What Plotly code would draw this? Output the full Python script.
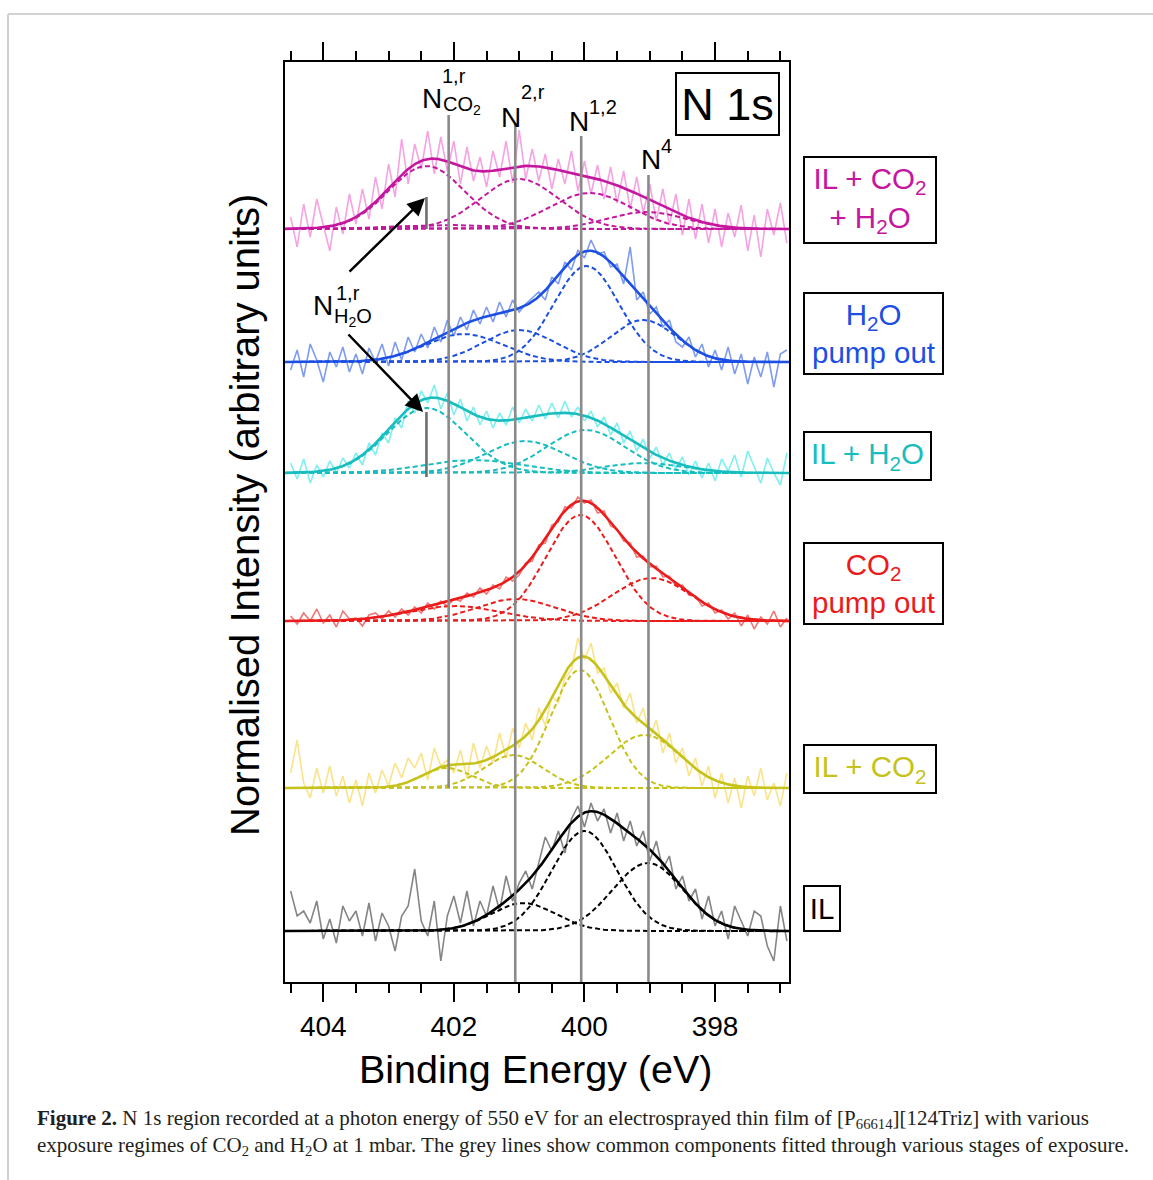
import numpy as np
import plotly.graph_objects as go

FONT = "Liberation Sans, Arial, sans-serif"
SERIF = "Liberation Serif, Times New Roman, serif"

# ---------------- data ----------------
# Binding energy grid of the recorded spectra (eV)
energy = [404.5, 404.4, 404.3, 404.2, 404.1, 404.0, 403.9, 403.8, 403.7, 403.6,
          403.5, 403.4, 403.3, 403.2, 403.1, 403.0, 402.9, 402.8, 402.7, 402.6,
          402.5, 402.4, 402.3, 402.2, 402.1, 402.0, 401.9, 401.8, 401.7, 401.6,
          401.5, 401.4, 401.3, 401.2, 401.1, 401.0, 400.9, 400.8, 400.7, 400.6,
          400.5, 400.4, 400.3, 400.2, 400.1, 400.0, 399.9, 399.8, 399.7, 399.6,
          399.5, 399.4, 399.3, 399.2, 399.1, 399.0, 398.9, 398.8, 398.7, 398.6,
          398.5, 398.4, 398.3, 398.2, 398.1, 398.0, 397.9, 397.8, 397.7, 397.6,
          397.5, 397.4, 397.3, 397.2, 397.1, 397.0, 396.9]

# raw intensities (arb. units, above each spectrum's own baseline)
raw_il_co2_h2o = [12, -18, 25, -8, 30, 5, -22, 22, -5, 35,
                  5, 40, 10, 52, 20, 65, 32, 90, 45, 85,
                  60, 98, 55, 92, 58, 88, 45, 82, 48, 72,
                  42, 78, 52, 88, 46, 99, 50, 80, 48, 75,
                  40, 70, 45, 78, 38, 68, 35, 64, 30, 62,
                  26, 58, 20, 52, 16, 45, 8, 40, 4, 35,
                  -6, 30, -10, 25, -14, 20, -18, 16, -8, 24,
                  -22, 14, -28, 20, -6, 26, -14]
raw_h2o_pump = [-8, 12, -15, 18, 2, -20, 10, -5, 15, -10,
                8, -12, 14, 0, 18, -4, 20, 2, 25, 10,
                28, 14, 35, 20, 42, 26, 45, 32, 52, 38,
                55, 40, 60, 45, 62, 50, 58, 64, 70, 62,
                85, 78, 100, 92, 112, 104, 122, 108, 110, 95,
                98, 78, 115, 62, 70, 48, 55, 35, 42, 20,
                15, 25, 5, 18, -5, 12, -8, 15, -12, 8,
                -22, 5, -15, 10, -25, 8, 12]
raw_il_h2o = [10, -6, 14, -10, 8, -4, 12, 0, 15, 5,
              20, 8, 30, 18, 40, 30, 55, 45, 72, 60,
              82, 70, 88, 64, 80, 58, 74, 52, 66, 48,
              62, 45, 60, 48, 66, 50, 64, 52, 68, 54,
              70, 55, 72, 56, 66, 52, 62, 46, 56, 38,
              50, 30, 42, 22, 34, 15, 26, 8, 20, 4,
              16, -2, 12, -5, 10, -8, 14, 2, 18, -4,
              22, 6, -10, 15, 0, -12, 20]
raw_co2_pump = [5, -3, 8, 0, 12, -2, 6, -6, 10, 2,
                3, -5, 6, 8, 2, 10, 4, 12, 6, 14,
                8, 18, 12, 20, 15, 22, 20, 28, 24, 33,
                27, 36, 32, 44, 40, 46, 58, 60, 76, 78,
                96, 99, 114, 113, 124, 118, 121, 108, 110, 95,
                92, 80, 78, 64, 65, 54, 55, 44, 45, 35,
                36, 26, 25, 15, 18, 8, 11, 2, 8, -5,
                6, -8, 4, -3, 10, -6, 3]
raw_il_co2 = [15, 48, 5, -10, 20, -5, 22, -8, 12, -15,
              8, -18, 15, -5, 18, 2, 25, 10, 30, 20,
              35, 8, 40, 22, 28, 15, 38, 10, 45, 20,
              42, 25, 55, 30, 60, 40, 65, 48, 80, 62,
              92, 85, 110, 118, 150, 128, 145, 115, 120, 95,
              105, 80, 95, 65, 80, 50, 68, 35, 55, 25,
              40, 12, 30, 2, 22, -10, 15, -15, 10, -20,
              12, -8, 20, -12, 5, -18, 15]
raw_il = [40, 15, 20, 8, 30, -8, 12, -12, 25, 10,
          20, -5, 28, -10, 18, 5, -20, 15, 25, 62,
          10, -5, 30, -30, 15, 35, 8, 40, 5, 30,
          15, 45, 20, 55, 30, 48, 60, 42, 68, 94,
          80, 100, 78, 112, 125, 104, 128, 110, 122, 98,
          118, 90, 110, 85, 100, 70, 90, 62, 75, 42,
          55, 30, 42, 12, 35, 5, 20, -8, 25, 10,
          -5, 20, 15, -15, -30, 25, -10]

# fitted components: centre (eV), height, gaussian sigma (eV)
fit_il_co2_h2o_centre = [402.42, 402.10, 401.00, 399.92, 399.05]
fit_il_co2_h2o_height = [63, 4, 50, 36, 17]
fit_il_co2_h2o_sigma = [0.58, 0.80, 0.60, 0.62, 0.60]

fit_h2o_pump_centre = [401.85, 401.00, 399.97, 399.10]
fit_h2o_pump_height = [28, 32, 96, 42]
fit_h2o_pump_sigma = [0.60, 0.55, 0.50, 0.50]

fit_il_h2o_centre = [402.42, 401.70, 400.91, 399.98, 399.10]
fit_il_h2o_height = [65, 13, 32, 43, 10]
fit_il_h2o_sigma = [0.60, 0.75, 0.60, 0.60, 0.60]

fit_co2_pump_centre = [402.00, 401.05, 400.06, 398.97]
fit_co2_pump_height = [15, 22, 106, 43]
fit_co2_pump_sigma = [0.70, 0.60, 0.53, 0.60]

fit_il_co2_centre = [402.11, 401.09, 400.07, 399.08]
fit_il_co2_height = [20, 33, 118, 53]
fit_il_co2_sigma = [0.38, 0.45, 0.45, 0.55]

fit_il_centre = [400.94, 400.00, 399.03]
fit_il_height = [28, 100, 68]
fit_il_sigma = [0.50, 0.50, 0.54]

# vertical stacking offsets of the spectra
offsets = {"il_co2_h2o": 753, "h2o_pump": 620, "il_h2o": 509,
           "co2_pump": 361, "il_co2": 194, "il": 51}

# common component energies (grey lines) and N(1,r) H2O marker
grey_line_energy = [402.08, 401.06, 400.05, 399.02]
h2o_marker_energy = 402.42

labels = ["IL + CO<sub>2</sub><br>+ H<sub>2</sub>O", "H<sub>2</sub>O<br>pump out",
          "IL + H<sub>2</sub>O", "CO<sub>2</sub><br>pump out", "IL + CO<sub>2</sub>", "IL"]

# ---------------- style ----------------
style = {
    "il_co2_h2o": ("#C4169F", "#F5A3E2"),
    "h2o_pump": ("#1C4FE3", "#7F9CEE"),
    "il_h2o": ("#17BDBF", "#7FEFF0"),
    "co2_pump": ("#EC1B1B", "#F07777"),
    "il_co2": ("#C6C21A", "#FAE38A"),
    "il": ("#000000", "#858585"),
}

spectra = [
    ("il", raw_il, fit_il_centre, fit_il_height, fit_il_sigma),
    ("il_co2", raw_il_co2, fit_il_co2_centre, fit_il_co2_height, fit_il_co2_sigma),
    ("co2_pump", raw_co2_pump, fit_co2_pump_centre, fit_co2_pump_height, fit_co2_pump_sigma),
    ("il_h2o", raw_il_h2o, fit_il_h2o_centre, fit_il_h2o_height, fit_il_h2o_sigma),
    ("h2o_pump", raw_h2o_pump, fit_h2o_pump_centre, fit_h2o_pump_height, fit_h2o_pump_sigma),
    ("il_co2_h2o", raw_il_co2_h2o, fit_il_co2_h2o_centre, fit_il_co2_h2o_height, fit_il_co2_h2o_sigma),
]

X_RANGE = [404.586, 396.868]
e_fine = np.linspace(X_RANGE[0], X_RANGE[1], 600)

fig = go.Figure()

for key, raw, cen, hgt, sig in spectra:
    dark, light = style[key]
    off = offsets[key]
    fig.add_trace(go.Scatter(x=energy, y=np.array(raw) + off, mode="lines",
                             line=dict(color=light, width=1.6), showlegend=False, hoverinfo="skip"))
    total = np.zeros_like(e_fine)
    for c, h, s in zip(cen, hgt, sig):
        comp = h * np.exp(-(e_fine - c) ** 2 / (2 * s ** 2))
        total += comp
        fig.add_trace(go.Scatter(x=e_fine, y=comp + off, mode="lines",
                                 line=dict(color=dark, width=2, dash="5px,3px"),
                                 showlegend=False, hoverinfo="skip"))
    fig.add_trace(go.Scatter(x=e_fine, y=total + off, mode="lines",
                             line=dict(color=dark, width=2.6), showlegend=False, hoverinfo="skip"))

# grey lines for common components
grey_line_y = [(offsets["il_co2"], 867), (0, 859), (0, 846), (0, 807)]
for e, (y0, y1) in zip(grey_line_energy, grey_line_y):
    fig.add_trace(go.Scatter(x=[e, e], y=[y0, y1], mode="lines",
                             line=dict(color="#8A8A8A", width=2.6), showlegend=False, hoverinfo="skip"))
for y0, y1 in [(offsets["il_co2_h2o"], 785), (offsets["il_h2o"] - 4, 570)]:
    fig.add_trace(go.Scatter(x=[h2o_marker_energy, h2o_marker_energy], y=[y0, y1], mode="lines",
                             line=dict(color="#6E6E6E", width=2.6), showlegend=False, hoverinfo="skip"))

# ---------------- layout ----------------
W, H = 1153, 1180
L, R, T, B = 285, 364, 62, 198
PW, PH = W - L - R, H - T - B


def px(x):
    return (x - L) / PW


def py(y):
    return (H - B - y) / PH


tick_common = dict(tickmode="linear", tick0=0, dtick=2, ticks="outside", ticklen=18, tickwidth=2,
                   tickcolor="black",
                   minor=dict(dtick=0.5, tick0=0, ticks="outside", ticklen=9, tickwidth=2, tickcolor="black"))

fig.update_layout(
    width=W, height=H, margin=dict(l=L, r=R, t=T, b=B),
    paper_bgcolor="white", plot_bgcolor="white",
    xaxis=dict(range=X_RANGE, showgrid=False, zeroline=False, showline=True, linecolor="black",
               linewidth=2, mirror="ticks", tickfont=dict(family=FONT, size=28, color="black"),
               ticklabelstandoff=0, **tick_common),
    yaxis=dict(range=[0, PH], showgrid=False, zeroline=False, showline=True, linecolor="black",
               linewidth=2, mirror=True, showticklabels=False, ticks=""),
    showlegend=False,
)


def text(cx, cy, s, size, color="black", family=FONT, **kw):
    fig.add_annotation(x=px(cx), y=py(cy), xref="paper", yref="paper", text=s, showarrow=False,
                       xanchor=kw.pop("xanchor", "center"), yanchor=kw.pop("yanchor", "middle"),
                       font=dict(family=family, size=size, color=color), **kw)


# axis titles
text(536, 1069, "Binding Energy (eV)", 39.5)
text(245, 515, "Normalised Intensity (arbitrary units)", 40, textangle=-90)

# component labels
text(431.7, 98, "N", 28)
text(454, 76, "1,r", 20)
text(462, 105, "CO<sub>2</sub>", 20)
text(511, 117, "N", 28)
text(533, 92, "2,r", 20)
text(579, 122, "N", 28)
text(603, 107, "1,2", 20)
text(651, 159, "N", 28)
text(666, 146, "4", 20)
text(322.5, 305, "N", 28)
text(348, 292.5, "1,r", 20)
text(352.5, 317, "H<sub>2</sub>O", 20)

# arrows
fig.add_annotation(x=px(425), y=py(198), xref="paper", yref="paper", ax=-77, ay=75, text="",
                   showarrow=True, arrowhead=2, arrowsize=1.4, arrowwidth=2.5, arrowcolor="black")
fig.add_annotation(x=px(423), y=py(412), xref="paper", yref="paper", ax=-76, ay=-79, text="",
                   showarrow=True, arrowhead=2, arrowsize=1.4, arrowwidth=2.5, arrowcolor="black")


def box(cx, cy, w, h, s, color, size=29.5):
    fig.add_annotation(x=px(cx), y=py(cy), xref="paper", yref="paper", text=s, showarrow=False,
                       xanchor="center", yanchor="middle", align="center", valign="middle",
                       width=w - 4, height=h - 4, borderpad=0, borderwidth=2, bordercolor="black",
                       bgcolor="white", font=dict(family=FONT, size=size, color=color))


box(727.5, 104, 105, 64, "N 1s", "black", 45)
box_pos = [(870, 200, 134, 88), (873.5, 333.5, 141, 83), (867.5, 456, 129, 50),
           (873.5, 583.5, 141, 83), (870, 769, 134, 50), (822, 908.5, 38, 47)]
box_keys = ["il_co2_h2o", "h2o_pump", "il_h2o", "co2_pump", "il_co2", "il"]
for (cx, cy, w, h), lab, k in zip(box_pos, labels, box_keys):
    box(cx, cy, w, h, lab, style[k][0])

# caption (two single-line annotations)
text(36, 1119, "<b>Figure 2.</b> N 1s region recorded at a photon energy of 550 eV for an electrosprayed "
     "thin film of [P<sub>66614</sub>][124Triz] with various", 21, color="#231F20", family=SERIF,
     xanchor="left", height=22, borderpad=0, valign="middle")
text(36, 1146, "exposure regimes of CO<sub>2</sub> and H<sub>2</sub>O at 1 mbar. The grey lines show "
     "common components fitted through various stages of exposure.", 21, color="#231F20",
     family=SERIF, xanchor="left", height=22, borderpad=0, valign="middle")

# page frame lines
fig.add_shape(type="line", xref="paper", yref="paper", x0=px(8), x1=px(1153), y0=py(14), y1=py(14),
              line=dict(color="#D2D2D2", width=2))
fig.add_shape(type="line", xref="paper", yref="paper", x0=px(8), x1=px(8), y0=py(14), y1=py(1180),
              line=dict(color="#D2D2D2", width=2))

fig.write_html("out.html")
